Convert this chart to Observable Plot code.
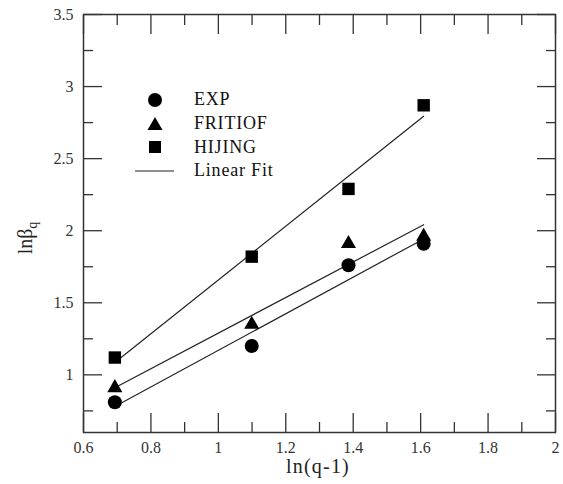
<!DOCTYPE html>
<html>
<head>
<meta charset="utf-8">
<script src="https://cdn.jsdelivr.net/npm/d3@7"></script>
<script src="https://cdn.jsdelivr.net/npm/@observablehq/plot@0.6"></script>
<style>
  body { margin: 0; background: #fff; }
  #wrap { position: relative; width: 563px; height: 484px; font-family: "Liberation Serif", "DejaVu Serif", serif; }
  #wrap svg text { font-family: "Liberation Serif", "DejaVu Serif", serif !important; }
  #legend { position: absolute; left: 134px; top: 88px; font-size: 18px; letter-spacing: 0.8px; color: #111; font-family: "Liberation Serif", "DejaVu Serif", serif; }
  .item { display: flex; align-items: center; height: 23.7px; }
  .item svg { width: 42px; height: 20px; margin-right: 18px; }
</style>
</head>
<body>
<div id="wrap"></div>
<script>
const xValues = [0.693, 1.099, 1.386, 1.609];
const expY = [0.81, 1.20, 1.76, 1.91];
const fritiofY = [0.91, 1.35, 1.91, 1.96];
const hijingY = [1.12, 1.82, 2.29, 2.87];
const seriesNames = ["EXP", "FRITIOF", "HIJING"];
const xMajor = [0.6, 0.8, 1, 1.2, 1.4, 1.6, 1.8, 2];
const xMinor = [0.7, 0.9, 1.1, 1.3, 1.5, 1.7, 1.9];
const yMajor = [1, 1.5, 2, 2.5, 3, 3.5];
const yMinor = [0.75, 1.25, 1.75, 2.25, 2.75, 3.25];

const seriesY = [expY, fritiofY, hijingY];
const data = seriesNames.flatMap((s, i) => xValues.map((x, j) => ({series: s, x, y: seriesY[i][j]})));
const bySeries = s => data.filter(d => d.series === s);

const ink = "#222";
const fmt = d => String(d);
const serif = "'Liberation Serif', 'DejaVu Serif', serif";

const chart = Plot.plot({
  width: 563,
  height: 484,
  marginLeft: 83,
  marginRight: 8,
  marginTop: 14,
  marginBottom: 52,
  style: {fontFamily: serif, fontSize: "16px", color: "#333", background: "#fff"},
  x: {domain: [0.6, 2]},
  y: {domain: [0.6, 3.5]},
  marks: [
    Plot.frame({stroke: "#333", strokeWidth: 1.5}),
    Plot.axisX({anchor: "bottom", ticks: xMajor, tickSize: 0, tickPadding: 9, tickFormat: fmt, label: null, fontSize: 16}),
    Plot.axisX({anchor: "bottom", ticks: xMajor, tickSize: -19, text: null, label: null, stroke: "#333", strokeWidth: 1.3}),
    Plot.axisX({anchor: "bottom", ticks: xMinor, tickSize: -10, text: null, label: null, stroke: "#333", strokeWidth: 1.3}),
    Plot.axisX({anchor: "top", ticks: xMajor, tickSize: -19, text: null, label: null, stroke: "#333", strokeWidth: 1.3}),
    Plot.axisX({anchor: "top", ticks: xMinor, tickSize: -10, text: null, label: null, stroke: "#333", strokeWidth: 1.3}),
    Plot.axisY({anchor: "left", ticks: yMajor, tickSize: 0, tickPadding: 10, tickFormat: fmt, label: null, fontSize: 16}),
    Plot.axisY({anchor: "left", ticks: yMajor, tickSize: -19, text: null, label: null, stroke: "#333", strokeWidth: 1.3}),
    Plot.axisY({anchor: "left", ticks: yMinor, tickSize: -10, text: null, label: null, stroke: "#333", strokeWidth: 1.3}),
    Plot.axisY({anchor: "right", ticks: yMajor, tickSize: -19, text: null, label: null, stroke: "#333", strokeWidth: 1.3}),
    Plot.axisY({anchor: "right", ticks: yMinor, tickSize: -10, text: null, label: null, stroke: "#333", strokeWidth: 1.3}),
    Plot.linearRegressionY(data, {x: "x", y: "y", z: "series", ci: 0, stroke: ink, strokeWidth: 1.2}),
    Plot.dot(bySeries("EXP"), {x: "x", y: "y", symbol: "circle", r: 7, fill: "#000", stroke: null}),
    Plot.dot(bySeries("FRITIOF"), {x: "x", y: "y", symbol: "triangle", r: 5.6, fill: "#000", stroke: null}),
    Plot.dot(bySeries("HIJING"), {x: "x", y: "y", symbol: "square", r: 7, fill: "#000", stroke: null})
  ]
});

const svg = d3.select(chart);
svg.append("text")
  .attr("x", 318).attr("y", 473)
  .attr("text-anchor", "middle")
  .attr("font-family", serif)
  .attr("letter-spacing", "1.2px")
  .attr("font-size", 20).attr("fill", "#222")
  .text("ln(q-1)");
const yl = svg.append("text")
  .attr("transform", "translate(32,238) rotate(-90)")
  .attr("text-anchor", "middle")
  .attr("font-family", serif)
  .attr("font-size", 20).attr("fill", "#222");
yl.append("tspan").text("lnβ");
yl.append("tspan").attr("font-size", 14).attr("dy", 5).text("q");

const wrap = document.getElementById("wrap");
wrap.appendChild(chart);

const legendItems = [
  {label: seriesNames[0], sym: '<circle cx="21" cy="10" r="7" fill="#000"/>'},
  {label: seriesNames[1], sym: '<path d="M21,3 L28.5,16 L13.5,16 Z" fill="#000"/>'},
  {label: seriesNames[2], sym: '<rect x="15" y="4" width="12" height="12" fill="#000"/>'},
  {label: "Linear Fit", sym: '<line x1="1" y1="10" x2="40" y2="10" stroke="#222" stroke-width="1.2"/>'}
];
const legend = document.createElement("div");
legend.id = "legend";
legend.innerHTML = legendItems.map(d => `<div class="item"><svg viewBox="0 0 42 20">${d.sym}</svg><span>${d.label}</span></div>`).join("");
wrap.appendChild(legend);
</script>
</body>
</html>
